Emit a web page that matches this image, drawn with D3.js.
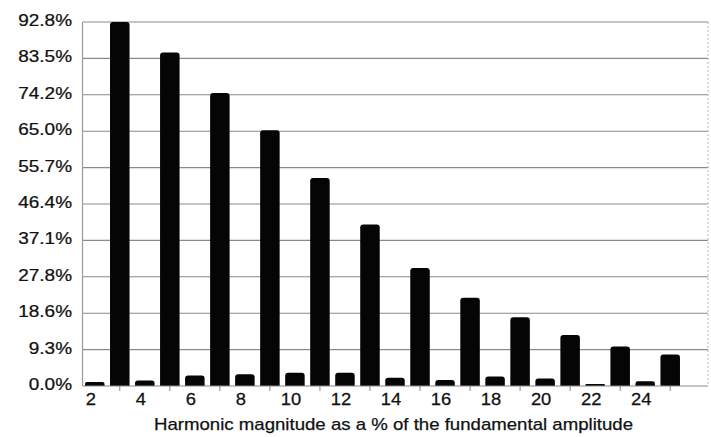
<!DOCTYPE html>
<html>
<head>
<meta charset="utf-8">
<script src="https://cdn.jsdelivr.net/npm/d3@7/dist/d3.min.js"></script>
<style>
  html, body { margin: 0; padding: 0; background: #fff; }
  svg { display: block; }
  text { font-family: "Liberation Sans", Arial, sans-serif; fill: #111; }
</style>
</head>
<body>
<svg id="chart" width="711" height="437"></svg>
<script>
// ---- data ----
const harmonics = [2,3,4,5,6,7,8,9,10,11,12,13,14,15,16,17,18,19,20,21,22,23,24,25];
const magnitudes = [1.0,92.8,1.4,85.0,2.7,74.7,3.0,65.2,3.4,53.0,3.4,41.2,2.1,30.1,1.5,22.5,2.4,17.5,1.9,13.0,0.5,10.1,1.2,8.0];
const yTickValues = [0,9.28,18.56,27.84,37.12,46.4,55.68,64.96,74.24,83.52,92.8];
const yTickLabels = ["0.0%","9.3%","18.6%","27.8%","37.1%","46.4%","55.7%","65.0%","74.2%","83.5%","92.8%"];
const xTickLabels = ["2","4","6","8","10","12","14","16","18","20","22","24"];
const xTitle = "Harmonic magnitude as a % of the fundamental amplitude";

// ---- layout ----
const svg = d3.select("#chart");
const plotLeft = 82.5, plotRight = 708, plotTop = 22, plotBottom = 386;

const domainCats = harmonics.concat([26]).map(String);
const x = d3.scaleBand().domain(domainCats).range([82, 708]).paddingInner(0.22).paddingOuter(0.12);
const y = d3.scaleLinear().domain([0, 92.8]).range([plotBottom, plotTop]);

// gridlines
svg.append("g").selectAll("line").data(yTickValues.slice(1)).join("line")
  .attr("x1", plotLeft).attr("x2", plotRight)
  .attr("y1", d => y(d)).attr("y2", d => y(d))
  .attr("stroke", "#8a8a8a").attr("stroke-width", 1.1);

// frame: left axis, right dotted border
svg.append("line").attr("x1", plotLeft).attr("x2", plotLeft).attr("y1", plotTop).attr("y2", plotBottom)
  .attr("stroke", "#9a9a9a").attr("stroke-width", 1.2);
svg.append("line").attr("x1", plotRight).attr("x2", plotRight).attr("y1", plotTop).attr("y2", plotBottom)
  .attr("stroke", "#b5b5b5").attr("stroke-width", 1).attr("stroke-dasharray", "2,2");

// y axis labels (horizontally widened like the scanned original)
const yAxis = d3.axisLeft(y).tickValues(yTickValues)
  .tickFormat((d, i) => yTickLabels[i]).tickSize(0).tickPadding(0);
const gy = svg.append("g").attr("transform", `translate(72,-2.5) scale(1.15,1)`).call(yAxis);
gy.select(".domain").remove();
gy.selectAll("text").attr("font-size", 16.5)
  .attr("font-family", "'Liberation Sans', Arial, sans-serif").attr("fill", "#111")
  .attr("stroke", "#111").attr("stroke-width", 0.25).attr("dy", "0.36em");

// bars with rounded tops
const bw = x.bandwidth();
function barPath(d, i) {
  const x0 = x(String(harmonics[i])), x1 = x0 + bw;
  const yt = y(magnitudes[i]), yb = plotBottom;
  const r = Math.min(3, (yb - yt) / 2, bw / 2);
  return `M${x0},${yb}L${x0},${yt + r}Q${x0},${yt} ${x0 + r},${yt}L${x1 - r},${yt}Q${x1},${yt} ${x1},${yt + r}L${x1},${yb}Z`;
}
svg.append("g").selectAll("path").data(magnitudes).join("path")
  .attr("d", barPath).attr("fill", "#050505");

// baseline
svg.append("line").attr("x1", plotLeft).attr("x2", plotRight).attr("y1", plotBottom).attr("y2", plotBottom)
  .attr("stroke", "#8a8a8a").attr("stroke-width", 1.2);

// x ticks (under odd harmonics) and labels (even harmonics)
const oddCats = harmonics.filter(h => h % 2 === 1);
svg.append("g").selectAll("line").data(oddCats).join("line")
  .attr("x1", d => x(String(d)) + bw / 2).attr("x2", d => x(String(d)) + bw / 2)
  .attr("y1", plotBottom).attr("y2", plotBottom + 5)
  .attr("stroke", "#888").attr("stroke-width", 1);

svg.append("g").selectAll("text").data(xTickLabels).join("text")
  .attr("transform", d => `translate(${x(d) + bw / 2 - 4},405) scale(1.08,1)`)
  .attr("text-anchor", "middle").attr("font-size", 17)
  .attr("stroke", "#111").attr("stroke-width", 0.25)
  .text(d => d);

// x title
svg.append("text").attr("x", 393.5).attr("y", 430).attr("text-anchor", "middle")
  .attr("font-size", 17).attr("textLength", 479).attr("lengthAdjust", "spacingAndGlyphs")
  .attr("stroke", "#111").attr("stroke-width", 0.25)
  .text(xTitle);
</script>
</body>
</html>
